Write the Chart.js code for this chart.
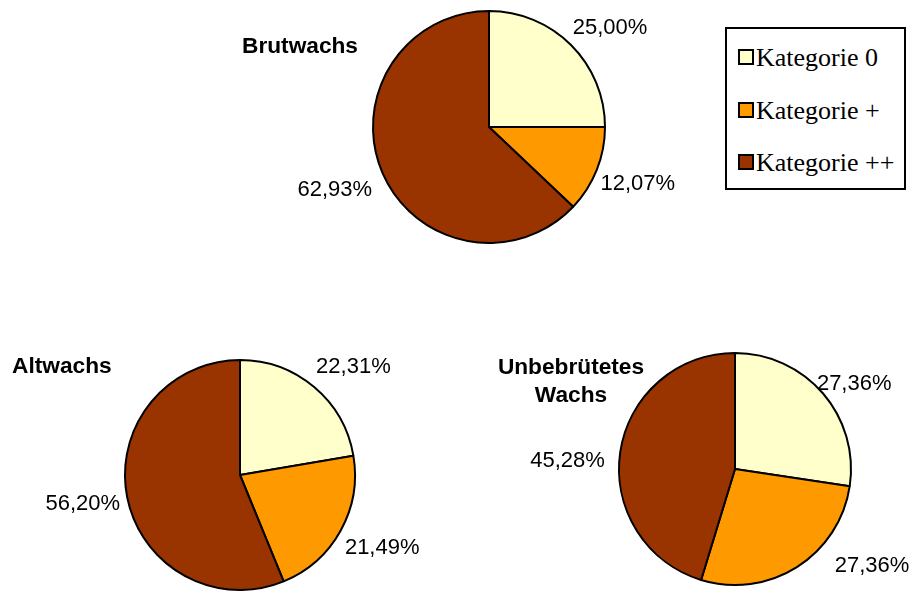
<!DOCTYPE html>
<html>
<head>
<meta charset="utf-8">
<script src="https://cdn.jsdelivr.net/npm/chart.js@4"></script>
<style>
  body { margin: 0; background: #fff; }
  #wrap { position: relative; width: 910px; height: 592px; overflow: hidden; }
  canvas { position: absolute; left: 0; top: 0; }
  .title { position: absolute; font: bold 22.7px "Liberation Sans", Arial, sans-serif; line-height: 28px; text-align: center; color: #000; }
  #legend { position: absolute; left: 725px; top: 27px; width: 181px; height: 163px; box-sizing: border-box; border: 2px solid #000; background: #fff; }
  .item { position: absolute; left: 11px; height: 30px; font: 26px "Liberation Serif", "Times New Roman", serif; line-height: 30px; color: #000; white-space: nowrap; }
  .sw { display: inline-block; width: 12px; height: 12px; border: 2px solid #000; margin-right: 2px; vertical-align: 1px; }
</style>
</head>
<body>
<div id="wrap">
  <canvas id="c1" width="910" height="592"></canvas>
  <canvas id="c2" width="910" height="592"></canvas>
  <canvas id="c3" width="910" height="592"></canvas>
  <div class="title" style="left:242px; top:31px;">Brutwachs</div>
  <div class="title" style="left:12px; top:351px;">Altwachs</div>
  <div class="title" style="left:471px; top:352px; width:200px;">Unbebrütetes<br>Wachs</div>
  <div id="legend"></div>
</div>
<script>
const categories = ['Kategorie 0', 'Kategorie +', 'Kategorie ++'];
const brutwachs = [25.00, 12.07, 62.93];
const altwachs = [22.31, 21.49, 56.20];
const unbebruetet = [27.36, 27.36, 45.28];

const colors = ['#FFFFCC', '#FF9900', '#993300'];

function fmt(v) {
    return v.toFixed(2).replace('.', ',') + '%';
}

// legend box
const legend = document.getElementById('legend');
categories.forEach((c, i) => {
    const row = document.createElement('div');
    row.className = 'item';
    row.style.top = (14 + i * 52.5) + 'px';
    row.innerHTML = '<span class="sw" style="background:' + colors[i] + '"></span>' + c;
    legend.appendChild(row);
});

// percentage labels outside the slices
const outsideLabels = {
    id: 'outsideLabels',
    afterDatasetsDraw(chart, args, opts) {
        const ctx = chart.ctx;
        const meta = chart.getDatasetMeta(0);
        const values = chart.data.datasets[0].data;
        ctx.save();
        ctx.font = '22px "Liberation Sans", Arial, sans-serif';
        ctx.fillStyle = '#000';
        ctx.textAlign = 'center';
        ctx.textBaseline = 'middle';
        meta.data.forEach((arc, i) => {
            const p = arc.getProps(['x', 'y', 'startAngle', 'endAngle', 'outerRadius'], true);
            const mid = (p.startAngle + p.endAngle) / 2;
            const text = fmt(values[i]);
            const w = ctx.measureText(text).width;
            const h = 16;
            const cos = Math.cos(mid), sin = Math.sin(mid);
            const d = p.outerRadius + 8;
            const n = (opts.nudge || [])[i] || [0, 0];
            ctx.fillText(text, p.x + d * cos + cos * w / 2 + n[0], p.y + d * sin + sin * h / 2 + n[1]);
        });
        ctx.restore();
    }
};

function makePie(id, values, padding, nudge) {
    return new Chart(document.getElementById(id), {
        type: 'pie',
        data: {
            labels: categories,
            datasets: [{
                data: values,
                backgroundColor: colors,
                borderColor: '#000',
                borderWidth: 2
            }]
        },
        options: {
            responsive: false,
            animation: false,
            layout: { padding: padding },
            plugins: {
                legend: { display: false },
                tooltip: { enabled: false },
                outsideLabels: { nudge: nudge }
            }
        },
        plugins: [outsideLabels]
    });
}

makePie('c1', brutwachs, { left: 372, top: 10, right: 304, bottom: 348 },
    [[7, -6], [-1, 8], [-6, 11]]);
makePie('c2', altwachs, { left: 124, top: 359, right: 554, bottom: 1 },
    [[10, -8], [2, 9], [0, 4]]);
makePie('c3', unbebruetet, { left: 618, top: 352, right: 58, bottom: 6 },
    [[-3, 1], [51, -15], [-8, 11]]);
</script>
</body>
</html>
